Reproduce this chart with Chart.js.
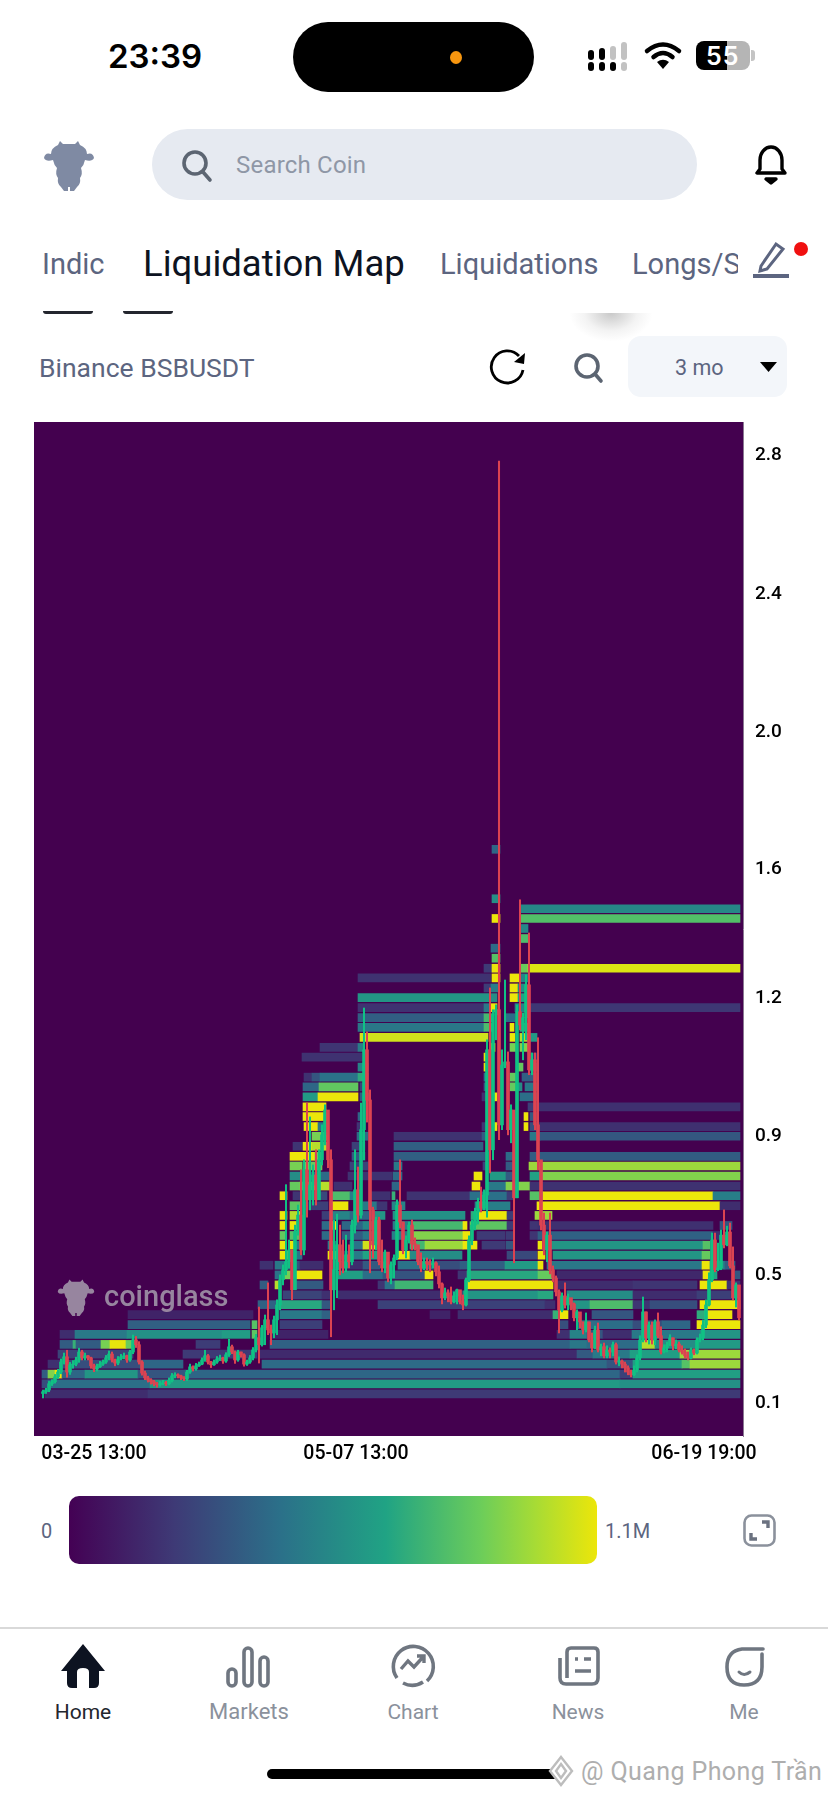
<!DOCTYPE html>
<html lang="en">
<head>
    <meta charset="UTF-8">
    <title>Liquidation Map</title>
    <script src="https://cdn.jsdelivr.net/npm/chart.js"></script>
    <style>
        html, body { margin: 0; padding: 0; background: #fff; }
        body { position: relative; width: 828px; height: 1795px; overflow: hidden; font-family: Roboto, sans-serif; }
        .t { position: absolute; white-space: nowrap; line-height: 1; transform: translateY(-50%); }
        .abs { position: absolute; }
        svg { position: absolute; overflow: visible; }
        .grey { color: #5c6580; }
        .nav { color: #8b919c; font-size: 21px; transform: translate(-50%, -50%); }
    </style>
</head>
<body>
    <!-- status bar -->
    <div class="t" style="left:108px;top:56px;font:600 33px Inter;color:#000">23:39</div>
    <div class="abs" style="left:293px;top:22px;width:241px;height:70px;border-radius:35px;background:#000"></div>
    <div class="abs" style="left:450px;top:51px;width:12px;height:13px;border-radius:50%;background:#f7960f"></div>
    <svg style="left:588px;top:41px" width="44" height="30">
        <g fill="#000">
            <rect x="0" y="9" width="6" height="10" rx="3"/><rect x="11" y="7" width="6" height="12" rx="3"/>
            <rect x="0" y="21" width="6" height="9" rx="3"/><rect x="11" y="21" width="6" height="9" rx="3"/><rect x="22" y="21" width="6" height="9" rx="3"/>
        </g>
        <g fill="#c2c2c2">
            <rect x="22" y="5" width="6" height="14" rx="3"/><rect x="33" y="1" width="6" height="18" rx="3"/><rect x="33" y="21" width="6" height="9" rx="3"/>
        </g>
    </svg>
    <svg style="left:644px;top:42px" width="38" height="28" viewBox="0 0 38 28" fill="none" stroke="#000" stroke-width="4.5" stroke-linecap="round">
        <path d="M3 9 Q19 -4 35 9"/><path d="M9.5 15 Q19 7 28.5 15"/>
        <path d="M19 27 L13 20 Q19 15.5 25 20 Z" fill="#000" stroke="none"/>
    </svg>
    <div class="abs" style="left:696px;top:41px;width:54px;height:29px;border-radius:8px;background:linear-gradient(90deg,#000 0,#000 58%,#b5b5b5 58%,#b5b5b5 100%)"></div>
    <div class="abs" style="left:751px;top:50px;width:4px;height:11px;border-radius:0 3px 3px 0;background:#c4c4c4"></div>
    <div class="t" style="left:706px;top:56px;font:600 25px Inter;color:#fff;letter-spacing:1px">55</div>

    <!-- top bar -->
    <svg style="left:43px;top:138px" width="52" height="54" viewBox="0 0 52 54"><use href="#bull" fill="#7f8aa3"/></svg>
    <div class="abs" style="left:152px;top:129px;width:545px;height:71px;border-radius:36px;background:#e6eaf1"></div>
    <svg style="left:182px;top:150px" width="30" height="32" fill="none" stroke="#5c6572" stroke-width="3.6" stroke-linecap="round">
        <circle cx="13" cy="13" r="11"/><path d="M21 22 L28 30"/>
    </svg>
    <div class="t" style="left:236px;top:165px;font-size:24px;color:#8f97a6;letter-spacing:.2px">Search Coin</div>
    <svg style="left:755px;top:145px" width="32" height="38" fill="none" stroke="#000" stroke-width="3.4" stroke-linejoin="round">
        <path d="M2 28 H30 L27 24 V15 A11 13 0 0 0 5 15 V24 Z"/><path d="M11 34 H21 L16 38 Z" fill="#000"/>
    </svg>

    <!-- tabs -->
    <div class="t grey" style="left:42px;top:264px;font-size:29px">Indic</div>
    <div class="t" style="left:143px;top:264px;font-size:36.5px;color:#0d1321">Liquidation Map</div>
    <div class="t grey" style="left:440px;top:264px;font-size:29px">Liquidations</div>
    <div class="abs" style="left:632px;top:245px;width:106px;height:40px;overflow:hidden">
        <div class="t grey" style="left:0;top:19px;font-size:29px">Longs/Short</div>
    </div>
    <svg style="left:752px;top:242px" width="38" height="36" fill="none" stroke="#5c6580" stroke-width="3">
        <path d="M9 24 L24 2 L31 7 L15 27 L8 29 Z"/><path d="M1 34 H37" stroke-width="4"/>
    </svg>
    <div class="abs" style="left:794px;top:242px;width:14px;height:14px;border-radius:50%;background:#f01010"></div>
    <div class="abs" style="left:43px;top:311px;width:50px;height:3px;border-radius:0 0 3px 3px;background:#23262e"></div>
    <div class="abs" style="left:123px;top:311px;width:50px;height:3px;border-radius:0 0 3px 3px;background:#23262e"></div>
    <div class="abs" style="left:570px;top:313px;width:82px;height:28px;background:radial-gradient(ellipse at 50% 0,#c9c9c9 0,#f3f3f3 45%,#fff 72%)"></div>

    <!-- toolbar -->
    <div class="t grey" style="left:39px;top:368px;font-size:26.5px">Binance BSBUSDT</div>
    <svg style="left:490px;top:350px" width="36" height="36" fill="none" stroke="#000" stroke-width="2.8">
        <path d="M29 6 A16 16 0 1 0 33 20"/><path d="M35 3 L34 14 L24 12 Z" fill="#000" stroke="none"/>
    </svg>
    <svg style="left:574px;top:353px" width="30" height="30" fill="none" stroke="#5c6572" stroke-width="3.6" stroke-linecap="round">
        <circle cx="13" cy="13" r="11"/><path d="M21 21 L27 28"/>
    </svg>
    <div class="abs" style="left:628px;top:336px;width:159px;height:61px;border-radius:13px;background:#f3f6fa"></div>
    <div class="t grey" style="left:675px;top:368px;font-size:21.5px">3 mo</div>
    <svg style="left:760px;top:362px" width="17" height="11"><path d="M0 0 H17 L8.5 10 Z" fill="#000"/></svg>

    <!-- chart -->
    <div class="abs" style="left:34px;top:422px;width:709px;height:1014px;background:#44014f"></div>
    <canvas id="liqMap" class="abs" style="left:34px;top:422px" width="794" height="1050"></canvas>
    <svg style="left:57px;top:1276px" width="38" height="42" viewBox="0 0 52 54"><use href="#bull" fill="#97859f"/></svg>
    <div class="t" style="left:104px;top:1296px;font:500 29px Roboto;color:#97859f">coinglass</div>

    <!-- colour bar -->
    <div class="t grey" style="left:41px;top:1531px;font-size:20px">0</div>
    <div class="abs" id="colorBar" style="left:69px;top:1496px;width:528px;height:68px;border-radius:10px"></div>
    <div class="t grey" style="left:605px;top:1531px;font-size:20px">1.1M</div>
    <svg style="left:743px;top:1514px" width="33" height="33" fill="none" stroke="#8b919c" stroke-width="2.6">
        <rect x="1.5" y="1.5" width="30" height="30" rx="7"/>
        <path d="M19 8 H25 V14 M8 19 V25 H14" stroke-width="3.4" stroke="#6b7280"/>
    </svg>

    <!-- bottom nav -->
    <div class="abs" style="left:0;top:1627px;width:828px;height:2px;background:#d9d9d9"></div>
    <svg style="left:60px;top:1644px" width="46" height="44"><path d="M23 0 L45 27 H39 V39 Q39 44 34 44 H29 V28 Q29 24 23 24 Q17 24 17 28 V44 H12 Q7 44 7 39 V27 H1 Z" fill="#0d1321"/></svg>
    <svg style="left:226px;top:1646px" width="46" height="42" fill="none" stroke="#6f7680" stroke-width="3.6">
        <rect x="2" y="23" width="8" height="17" rx="4"/><rect x="18" y="2" width="8" height="38" rx="4"/><rect x="34" y="11" width="8" height="29" rx="4"/>
    </svg>
    <svg style="left:391px;top:1644px" width="44" height="44" fill="none" stroke="#6f7680" stroke-width="3.6">
        <path d="M6 34 A20 20 0 1 1 36 37 M32 38 A20 20 0 0 1 12 39"/><path d="M10 25 L17 17 L23 23 L33 12 M26 12 H33 V19" stroke-width="3.4"/>
    </svg>
    <svg style="left:558px;top:1646px" width="42" height="40" fill="none" stroke="#6f7680" stroke-width="3.6">
        <path d="M9 32 V6 Q9 2 13 2 H36 Q40 2 40 6 V32 Q40 38 34 38 H8 Q2 38 2 32 V12"/>
        <path d="M17 13 H20 M26 13 H33 M17 25 H33" stroke-width="3.6"/>
    </svg>
    <svg style="left:724px;top:1646px" width="42" height="42" fill="none" stroke="#6f7680" stroke-width="3.6" stroke-linecap="round">
        <path d="M39 3 H18 Q3 5 3 21 Q3 39 20 39 Q38 39 38 21 V8"/><path d="M15 26 Q20 31 26 26" stroke-width="3"/>
    </svg>
    <div class="t nav" style="left:83px;top:1712px;color:#23262e">Home</div>
    <div class="t nav" style="left:249px;top:1712px;font-size:22px">Markets</div>
    <div class="t nav" style="left:413px;top:1712px">Chart</div>
    <div class="t nav" style="left:578px;top:1712px">News</div>
    <div class="t nav" style="left:744px;top:1712px">Me</div>
    <div class="abs" style="left:267px;top:1769px;width:295px;height:10px;border-radius:5px;background:#000"></div>
    <svg style="left:549px;top:1756px" width="24" height="30" fill="none" stroke="#bdbdbd" stroke-width="2.4">
        <path d="M12 1 L23 15 L12 29 L1 15 Z" fill="#fff"/><path d="M12 8 L17 15 L12 22 L7 15 Z"/>
    </svg>
    <div class="t" style="left:581px;top:1771px;font-size:25px;color:#aeaeae;letter-spacing:.4px">@ Quang Phong Trần</div>

    <svg width="0" height="0" style="left:0;top:0">
        <defs>
            <g id="bull">
                <path d="M17 3 L20 6 H32 L35 3 L37 7 Q44 10 44 16 Q50 14 51 20 Q49 24 42 22 Q41 27 38 30 Q40 36 37 40 Q38 46 34 49 L31 53 H27 V49 H25 V53 H21 L18 49 Q14 46 15 40 Q12 36 14 30 Q11 27 10 22 Q3 24 1 20 Q2 14 8 16 Q8 10 15 7 Z"/>
            </g>
        </defs>
    </svg>

    <script>
        var xTickSteps = [51, 313, 661];
        var xTickLabels = ['03-25 13:00', '05-07 13:00', '06-19 19:00'];
        var yTickValues = [2.84, 2.438, 2.039, 1.64, 1.269, 0.87, 0.468, 0.098];
        var yTickLabels = ['2.8', '2.4', '2.0', '1.6', '1.2', '0.9', '0.5', '0.1'];

        // colour bar runs from 0 to 1100 (1.1M)
        var colorMax = 1100;
        var colorStops = [[0, '#440154'], [0.2, '#3e3a76'], [0.4, '#2b7089'], [0.6, '#20a384'], [0.78, '#6ccd5a'], [0.88, '#a5db36'], [1, '#ece60a']];

        // price of each liquidation level, bottom to top
        var heatLevels = [0.124, 0.153, 0.181, 0.21, 0.239, 0.267, 0.296, 0.324, 0.353, 0.382,
            0.41, 0.439, 0.468, 0.496, 0.525, 0.554, 0.582, 0.611, 0.64, 0.668,
            0.697, 0.725, 0.754, 0.783, 0.811, 0.84, 0.869, 0.897, 0.926, 0.954,
            0.983, 1.012, 1.04, 1.069, 1.098, 1.126, 1.155, 1.184, 1.212, 1.241,
            1.27, 1.298, 1.327, 1.355, 1.384, 1.413, 1.441, 1.47, 1.499, 1.527,
            1.556, 1.585, 1.613, 1.642, 1.67, 1.699];

        // cells of each level: [from step, to step, amount in thousands], one step is 3 hours after 03-25 13:00
        var heatCells = [
            [[2,105,170],[105,697,220]],
            [[-1,5,300],[5,107,430],[107,577,620],[577,697,580]],
            [[-1,5,360],[5,12,900],[12,19,1100],[19,42,400],[42,95,600],[95,142,330],[142,577,400],[577,590,250],[590,697,640]],
            [[5,17,180],[17,97,300],[97,140,400],[219,564,420],[564,590,330],[590,639,640],[639,647,800],[647,697,950]],
            [[15,90,260],[140,214,220],[217,534,160],[534,550,350],[550,587,480],[587,637,640],[637,697,950]],
            [[17,30,360],[30,33,720],[33,58,360],[58,67,880],[67,83,1090],[83,91,850],[153,177,230],[227,527,380],[527,544,470],[544,597,420],[597,612,1000],[612,654,560],[654,697,620]],
            [[17,32,170],[32,84,480],[84,179,580],[179,207,630],[209,214,820],[227,285,130],[514,527,180],[527,544,520],[544,560,330],[560,589,170],[589,657,480],[657,697,600]],
            [[85,207,370],[209,214,800],[237,279,240],[517,525,300],[534,590,430],[590,619,300],[619,647,400],[654,697,1100]],
            [[85,210,130],[237,279,480],[279,287,380],[387,407,130],[415,510,170],[510,517,720],[517,525,1100],[549,590,330],[654,662,700],[662,689,1100]],
            [[215,237,380],[237,279,680],[279,287,340],[335,502,250],[502,512,180],[527,547,600],[547,590,780],[590,607,200],[607,654,300],[657,697,1100]],
            [[240,279,260],[279,287,180],[295,420,170],[420,495,600],[495,510,680],[524,590,560],[590,654,170],[654,697,240]],
            [[217,225,360],[232,237,1000],[250,280,350],[335,342,200],[342,352,450],[352,390,740],[424,510,1100],[514,590,170],[590,654,200],[657,684,1100],[684,697,200]],
            [[232,240,450],[240,250,880],[250,279,1100],[295,320,640],[320,340,430],[340,382,320],[382,390,1100],[415,424,200],[424,495,680],[495,510,840],[514,660,150],[660,667,1100],[667,674,650],[692,697,340]],
            [[217,230,180],[232,247,480],[250,257,300],[257,280,170],[287,320,170],[320,337,350],[355,390,450],[390,417,300],[417,462,370],[462,495,620],[495,500,1100],[504,659,470],[659,667,1100],[667,682,500],[682,692,360]],
            [[237,249,1100],[249,259,450],[285,294,1100],[297,307,300],[307,320,480],[320,337,660],[355,367,1100],[367,419,560],[464,494,280],[495,502,1100],[510,659,600],[659,667,840]],
            [[237,243,1100],[247,252,1100],[252,259,500],[285,294,480],[307,320,450],[320,334,1050],[367,382,750],[382,420,950],[420,434,1100],[439,462,220],[463,470,340],[495,499,1100],[507,660,600],[660,667,800]],
            [[237,243,840],[247,259,800],[279,287,420],[299,320,360],[320,337,480],[349,370,500],[370,420,900],[420,427,1100],[434,462,220],[463,470,230],[487,495,200],[495,670,380],[670,677,170]],
            [[237,243,1100],[247,256,1100],[279,287,420],[287,294,1100],[299,320,400],[320,337,540],[350,370,500],[370,420,760],[420,424,1100],[427,464,820],[464,470,230],[487,495,200],[495,670,180],[677,689,330]],
            [[237,244,1100],[247,257,1000],[279,287,240],[287,307,520],[307,332,400],[332,342,600],[350,422,580],[428,434,700],[434,464,1100],[464,470,230],[492,509,950]],
            [[247,257,820],[260,269,200],[269,285,240],[287,305,1100],[320,334,480],[334,344,200],[349,362,520],[432,467,500],[494,677,1100],[677,697,170]],
            [[237,244,1100],[250,257,200],[267,284,280],[287,307,780],[307,314,500],[327,347,180],[349,352,720],[364,427,190],[427,464,440],[464,470,230],[487,500,800],[500,670,1100],[670,697,500]],
            [[247,257,840],[257,270,900],[270,287,1000],[291,309,180],[349,357,400],[429,437,1100],[444,463,480],[463,487,900],[487,697,190]],
            [[247,257,560],[262,287,420],[305,349,190],[350,359,420],[431,439,1100],[447,463,620],[463,470,360],[487,497,650],[497,697,900]],
            [[247,259,880],[260,279,850],[307,325,260],[351,359,480],[440,447,250],[463,470,360],[486,697,950]],
            [[247,272,1100],[272,279,850],[309,322,350],[351,442,370],[442,447,300],[463,470,420],[487,697,360]],
            [[250,259,200],[260,269,1100],[269,284,1000],[309,322,240],[351,440,370]],
            [[269,284,880],[314,325,420],[351,439,190],[439,447,360],[487,497,480],[497,697,340]],
            [[261,275,1100],[275,285,480],[314,320,200],[439,449,200],[449,454,1100],[481,485,1100],[487,494,300],[494,697,180]],
            [[260,284,1100],[315,319,400],[481,485,1100],[487,494,350]],
            [[260,283,1100],[485,494,240],[494,697,180]],
            [[260,275,620],[275,315,1100],[317,327,360],[439,447,180],[449,454,1100],[477,494,430]],
            [[260,276,400],[276,315,830],[317,325,250],[441,447,360],[467,474,840],[474,479,560],[482,494,480]],
            [[261,269,190],[269,277,330],[277,315,450],[315,325,700],[441,447,450],[467,475,840],[479,494,370]],
            [[315,325,520],[441,447,1100],[474,480,840],[487,494,380]],
            [[259,319,190],[441,447,1100],[487,494,220]],
            [[277,315,200],[315,320,500],[447,452,1100],[467,474,880],[477,485,900]],
            [[317,445,1050],[467,472,1100],[477,485,1000],[485,494,620]],
            [[315,441,470],[441,449,780],[467,471,1100],[477,485,700]],
            [[315,441,370],[441,449,760],[462,472,420]],
            [[315,441,190],[441,447,480],[448,454,1100],[472,484,520],[484,697,210]],
            [[315,447,600],[447,454,560],[467,475,1100],[475,484,650]],
            [[441,448,230],[448,455,500],[467,475,1100],[475,484,560]],
            [[315,448,190],[449,457,1100],[467,477,1100],[477,485,520]],
            [[441,449,220],[449,457,1100],[477,485,850],[485,697,1070]],
            [[449,457,800]],
            [[448,457,420]],
            [[477,485,780]],
            [[477,485,540]],
            [[449,457,1100],[477,697,790]],
            [[477,697,540]],
            [[449,457,570]],
            [], [], [], [],
            [[449,457,400]]
        ];

        // candles, one every 3 steps
        var firstOpen = 0.125;
        var candleClose = [
            .130,.135,.153,.159,.173,.187,.216,.231,.187,.208,.210,.222,.245,.228,.234,.228,.205,.196,.202,.210,
            .216,.228,.239,.222,.213,.225,.231,.234,.222,.245,.280,.266,.216,.184,.170,.164,.159,.153,.150,.153,
            .156,.153,.162,.176,.179,.176,.170,.167,.187,.202,.196,.205,.210,.222,.234,.216,.208,.216,.225,.228,
            .219,.237,.260,.245,.222,.245,.237,.210,.216,.228,.251,.286,.266,.315,.338,.309,.300,.338,.381,.454,
            .483,.506,.540,.425,.592,.641,.540,.772,.685,.728,.757,.685,.801,.873,.945,.801,.425,.483,.555,.506,
            .488,.526,.506,.612,.714,.641,.888,1.119,.974,.656,.555,.627,.506,.488,.534,.459,.497,.517,.670,.621,
            .540,.569,.612,.558,.555,.506,.488,.506,.500,.497,.503,.477,.442,.402,.416,.407,.390,.407,.425,.390,
            .381,.454,.569,.612,.650,.679,.661,.699,1.119,.830,1.220,1.235,.902,1.075,1.084,.888,.945,.691,1.229,1.191,
            1.212,1.307,1.061,1.090,.902,.801,.612,.540,.583,.483,.459,.419,.367,.407,.381,.402,.384,.344,.361,.332,
            .309,.332,.280,.257,.309,.251,.260,.234,.251,.245,.266,.216,.219,.210,.199,.187,.179,.193,.228,.280,
            .361,.286,.323,.280,.332,.292,.245,.257,.266,.286,.263,.268,.251,.245,.234,.228,.251,.242,.280,.286,
            .323,.381,.454,.569,.483,.488,.583,.555,.592,.494,.402,.439,.344
        ];
        var candleHigh = [
            .135,.140,.160,.165,.180,.195,.225,.242,.250,.215,.220,.230,.256,.250,.242,.235,.230,.210,.210,.218,
            .222,.235,.248,.245,.225,.232,.238,.242,.236,.250,.294,.290,.275,.220,.190,.175,.168,.163,.157,.160,
            .163,.160,.170,.183,.185,.182,.178,.174,.192,.210,.205,.212,.216,.228,.250,.238,.218,.222,.232,.236,
            .230,.243,.282,.265,.248,.250,.245,.240,.222,.235,.258,.296,.375,.322,.352,.445,.323,.349,.396,.468,
            .497,.729,.569,.526,.612,.670,.772,.801,.965,.925,.786,.830,.830,.902,.960,.916,.830,.627,.644,.612,
            .569,.583,.555,.627,.830,.780,.965,1.240,1.171,1.003,.664,.635,.635,.569,.540,.497,.506,.526,.685,.801,
            .621,.581,.621,.627,.575,.552,.532,.517,.517,.512,.517,.506,.494,.445,.430,.425,.433,.419,.427,.419,
            .410,.459,.581,.627,.661,.690,.722,.714,1.148,1.298,1.235,1.249,2.822,1.119,1.321,1.113,.960,.896,1.249,1.553,
            1.226,1.336,1.457,1.110,1.110,1.154,.714,.647,.592,.647,.494,.465,.425,.416,.445,.413,.396,.387,.367,.349,
            .332,.358,.332,.300,.320,.329,.268,.271,.263,.257,.274,.271,.231,.222,.216,.205,.193,.205,.237,.292,
            .404,.361,.332,.332,.338,.358,.318,.266,.274,.295,.286,.280,.274,.263,.254,.245,.257,.254,.286,.297,
            .338,.396,.474,.589,.589,.560,.598,.656,.609,.618,.549,.445,.425
        ];
        var candleLow = [
            .112,.125,.130,.148,.155,.168,.182,.210,.172,.180,.198,.205,.215,.222,.222,.222,.198,.188,.190,.200,
            .206,.212,.222,.216,.205,.208,.222,.225,.215,.218,.240,.258,.210,.178,.165,.158,.152,.147,.143,.146,
            .150,.148,.150,.158,.170,.170,.165,.162,.162,.183,.190,.192,.203,.208,.218,.210,.200,.206,.212,.220,
            .212,.215,.232,.240,.212,.218,.230,.204,.206,.212,.222,.245,.213,.262,.266,.295,.266,.286,.295,.367,
            .439,.468,.488,.396,.425,.583,.526,.526,.635,.656,.670,.670,.699,.786,.844,.778,.289,.367,.402,.468,
            .474,.477,.488,.497,.589,.621,.632,.801,.910,.474,.517,.540,.497,.477,.474,.448,.442,.459,.512,.604,
            .529,.517,.560,.540,.540,.497,.477,.483,.483,.477,.488,.465,.430,.384,.396,.390,.384,.387,.384,.384,
            .367,.378,.448,.555,.598,.615,.650,.656,.635,.763,.801,1.148,.859,.888,1.067,.873,.850,.503,.691,1.177,
            1.090,1.148,1.047,1.047,.888,.772,.598,.526,.506,.471,.448,.407,.300,.361,.372,.367,.367,.335,.309,.315,
            .297,.303,.274,.245,.254,.245,.234,.228,.228,.228,.234,.210,.205,.199,.187,.179,.173,.176,.187,.222,
            .274,.274,.268,.268,.266,.286,.239,.242,.245,.263,.251,.254,.245,.239,.228,.222,.225,.237,.239,.274,
            .280,.315,.378,.448,.477,.480,.483,.546,.552,.488,.396,.375,.338
        ];

        function hexToRgb(hex) {
            return [parseInt(hex.substr(1, 2), 16), parseInt(hex.substr(3, 2), 16), parseInt(hex.substr(5, 2), 16)];
        }

        function colorFor(amount) {
            var f = Math.min(amount / colorMax, 1);
            for (var i = 1; i < colorStops.length; i++) {
                if (f <= colorStops[i][0]) {
                    var a = colorStops[i - 1], b = colorStops[i];
                    var k = (f - a[0]) / (b[0] - a[0]);
                    var ca = hexToRgb(a[1]), cb = hexToRgb(b[1]);
                    return 'rgb(' + Math.round(ca[0] + (cb[0] - ca[0]) * k) + ',' + Math.round(ca[1] + (cb[1] - ca[1]) * k) + ',' + Math.round(ca[2] + (cb[2] - ca[2]) * k) + ')';
                }
            }
            return colorStops[colorStops.length - 1][1];
        }

        document.getElementById('colorBar').style.background = 'linear-gradient(90deg,' +
            colorStops.map(function (s) { return s[1] + ' ' + (s[0] * 100) + '%'; }).join(',') + ')';

        var heatData = [], heatColors = [];
        heatCells.forEach(function (cells, n) {
            cells.forEach(function (c) {
                heatData.push({ y: heatLevels[n], x: [c[0], c[1]] });
                heatColors.push(colorFor(c[2]));
            });
        });

        var bodyData = [], wickData = [], candleColors = [];
        candleClose.forEach(function (close, i) {
            var open = i === 0 ? firstOpen : candleClose[i - 1];
            bodyData.push({ x: i * 3, y: [open, close] });
            wickData.push({ x: i * 3, y: [candleLow[i], candleHigh[i]] });
            candleColors.push(close >= open ? '#10c184' : '#dc4351');
        });

        new Chart(document.getElementById('liqMap').getContext('2d'), {
            type: 'bar',
            data: {
                datasets: [
                    { indexAxis: 'x', data: bodyData, backgroundColor: candleColors, barThickness: 3, grouped: false, order: 1 },
                    { indexAxis: 'x', data: wickData, backgroundColor: candleColors, barThickness: 1.4, grouped: false, order: 2 },
                    { indexAxis: 'y', data: heatData, backgroundColor: heatColors, barThickness: 8, grouped: false, order: 3 }
                ]
            },
            options: {
                responsive: false,
                animation: false,
                layout: { padding: 0, autoPadding: false },
                plugins: { legend: { display: false }, tooltip: { enabled: false } },
                scales: {
                    x: {
                        type: 'linear',
                        offset: false,
                        min: -9,
                        max: 700,
                        grid: { display: false, drawTicks: false },
                        border: { display: false },
                        afterFit: function (scale) {
                            scale.height = 36;
                            scale.paddingLeft = 0;
                            scale.paddingRight = 0;
                        },
                        afterBuildTicks: function (scale) {
                            scale.ticks = xTickSteps.map(function (v) { return { value: v }; });
                        },
                        ticks: {
                            autoSkip: false,
                            maxRotation: 0,
                            padding: 6,
                            color: '#000',
                            font: { family: 'Roboto', size: 19.5, weight: '500' },
                            callback: function (v, i) { return xTickLabels[i]; }
                        }
                    },
                    y: {
                        type: 'linear',
                        offset: false,
                        position: 'right',
                        min: 0.002,
                        max: 2.935,
                        grid: { display: false, drawTicks: false },
                        border: { display: true, color: '#8a7a92', width: 1 },
                        afterFit: function (scale) {
                            scale.width = 85;
                            scale.paddingTop = 0;
                            scale.paddingBottom = 0;
                        },
                        afterBuildTicks: function (scale) {
                            scale.ticks = yTickValues.map(function (v) { return { value: v }; });
                        },
                        ticks: {
                            autoSkip: false,
                            padding: 12,
                            color: '#000',
                            font: { family: 'Roboto', size: 19, weight: '500' },
                            callback: function (v, i) { return yTickLabels[i]; }
                        }
                    }
                }
            }
        });
    </script>
</body>
</html>
